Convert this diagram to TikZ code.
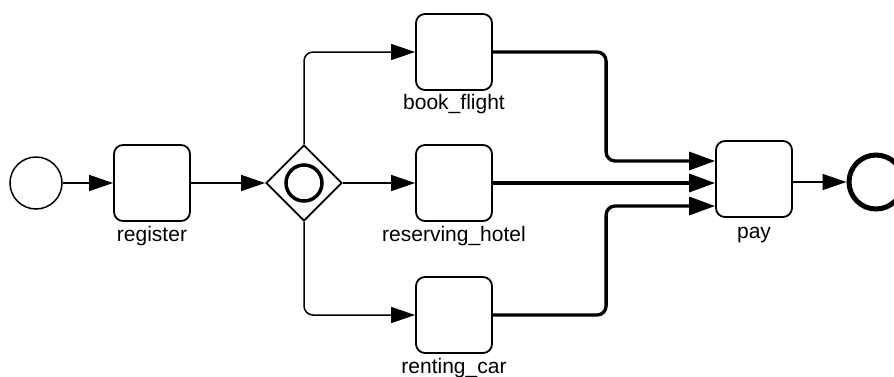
\documentclass[tikz,border=0pt]{standalone}
\usepackage{fontspec}
\setmainfont{Liberation Sans}
\usetikzlibrary{arrows.meta,shapes.geometric,calc}

\tikzset{
  task/.style={draw, line width=1.8pt, rounded corners=9pt, minimum width=76pt,
    minimum height=76pt, inner sep=0pt},
  startev/.style={draw, circle, line width=1.5pt, minimum size=52pt, inner sep=0pt},
  endev/.style={draw, circle, line width=5pt, minimum size=54pt, inner sep=0pt},
  gate/.style={draw, diamond, line width=1.8pt, minimum width=76pt,
    minimum height=76pt, inner sep=0pt},
  gatemark/.style={draw, circle, line width=3.5pt, minimum size=36pt, inner sep=0pt},
  lbl/.style={anchor=base, inner sep=0pt, font=\fontsize{21}{24}\selectfont},
  flow/.style={line width=1.5pt, rounded corners=9pt,
    -{Triangle[length=24pt,width=16pt]}},
  flowthick/.style={line width=3.3pt, rounded corners=9pt,
    -{Triangle[length=26pt,width=18pt]}},
}

\begin{document}
\begin{tikzpicture}[x=1pt,y=-1pt]
  \useasboundingbox (0,0) rectangle (894,376);

  % events, tasks and the parallel split
  \node[startev] (start) at (36,183) {};
  \node[task] (reg) at (152,183) {};
  \node[gate] (gw) at (304,183) {};
  \node[gatemark] (gwmark) at (gw.center) {};
  \node[task] (book) at (454,52) {};
  \node[task] (hotel) at (454,183) {};
  \node[task] (car) at (454,315) {};
  \node[task] (pay) at (754,179) {};
  \node[endev] (end) at (876,182) {};

  % task names
  \node[lbl] (reglbl) at ($(reg.south)+(0,20)$) {register};
  \node[lbl] (booklbl) at ($(book.south)+(0,19)$) {book\_flight};
  \node[lbl] (hotellbl) at ($(hotel.south)+(0,20)$) {reserving\_hotel};
  \node[lbl] (carlbl) at ($(car.south)+(0,20)$) {renting\_car};
  \node[lbl] (paylbl) at ($(pay.south)+(0,21)$) {pay};

  % sequence flows
  \draw[flow] (start.east) -- (reg.west);
  \draw[flow] (reg.east) -- (gw.west);
  \draw[flow] (gw.north) |- (book.west);
  \draw[flow] (gw.east) -- (hotel.west);
  \draw[flow] (gw.south) |- (car.west);

  % joins into pay
  \coordinate (inA) at ($(pay.west)+(0,-18)$);
  \coordinate (inC) at ($(pay.west)+(0,27)$);
  \draw[flowthick] (book.east) -| ($(inA)+(-109,0)$) -- (inA);
  \draw[flowthick] (hotel.east) -- (hotel.east -| pay.west);
  \draw[flowthick] (car.east) -| ($(inC)+(-109,0)$) -- (inC);

  \draw[flow] (pay.east |- end.west) -- (end.west);
\end{tikzpicture}
\end{document}
